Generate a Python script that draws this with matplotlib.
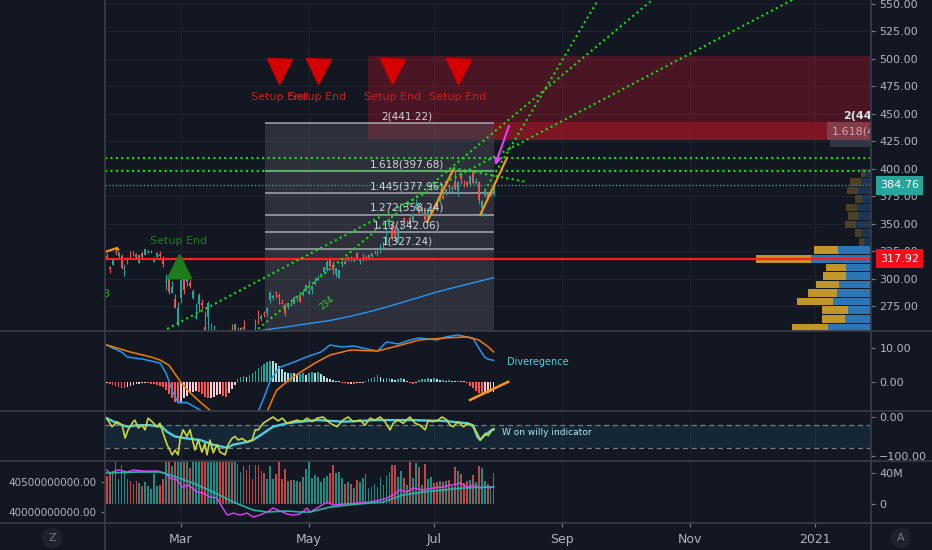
import numpy as np
import pandas as pd
import matplotlib
matplotlib.use("Agg")
import matplotlib.pyplot as plt
import matplotlib.transforms as mtrans
from matplotlib.patches import Rectangle
from matplotlib.lines import Line2D

plt.rcParams['font.family'] = ['DejaVu Sans']

# ------------------------------------------------------------------ data
holidays = ['2020-02-17', '2020-04-10', '2020-05-25', '2020-07-03', '2020-09-07',
            '2020-11-26', '2020-12-25', '2021-01-01', '2021-01-18', '2021-02-15']
month_starts = ['2020-03-01', '2020-05-01', '2020-07-01', '2020-09-01', '2020-11-01', '2021-01-01']
month_labels = ['Mar', 'May', 'Jul', 'Sep', 'Nov', '2021']

opens = [320.25, 310.06, 312.60, 324.45, 320.54, 320.93, 304.30, 315.31, 323.52, 322.57,
         322.37, 314.18, 323.60, 321.47, 324.19, 324.74, 315.36, 320.00, 322.63, 318.62,
         297.26, 300.95, 286.53, 281.10, 257.26, 282.28, 303.67, 296.44, 295.52, 282.00,
         263.75, 277.14, 277.39, 255.94, 264.89, 241.95, 247.51, 239.77, 247.39, 247.18,
         228.08, 236.36, 250.75, 246.52, 252.75, 250.74, 255.60, 246.50, 240.34, 242.80,
         250.90, 270.80, 262.74, 268.70, 268.31, 280.00, 282.40, 287.38, 284.69, 277.95,
         276.28, 273.61, 275.87, 277.20, 281.80, 285.08, 284.73, 289.96, 286.25, 289.17,
         295.06, 300.46, 303.22, 305.64, 308.10, 317.83, 312.15, 304.51, 300.35, 313.17,
         315.03, 316.68, 318.66, 315.77, 323.50, 316.14, 316.77, 319.25, 317.75, 320.75,
         324.66, 324.39, 323.35, 330.25, 332.14, 347.90, 349.31, 344.72, 333.25, 351.46,
         355.15, 351.41, 354.64, 351.34, 364.00, 365.00, 360.70, 364.41, 353.25, 360.08,
         365.12, 367.85, 370.00, 375.41, 376.72, 385.05, 381.34, 389.06, 379.36, 395.96,
         386.25, 387.95, 385.67, 396.69, 386.77, 387.99, 363.95, 374.84, 377.47, 375.00,
         376.75]
highs = [323.33, 311.77, 318.40, 327.85, 324.09, 322.68, 313.49, 319.64, 324.76, 325.22,
         323.40, 321.55, 323.90, 327.22, 326.22, 325.98, 319.75, 324.57, 324.65, 320.45,
         304.18, 302.53, 297.88, 286.00, 278.41, 301.44, 304.00, 303.40, 299.55, 290.82,
         278.09, 286.44, 281.22, 270.00, 279.92, 259.08, 257.61, 250.00, 252.84, 251.83,
         228.50, 247.69, 258.25, 258.68, 255.87, 255.52, 262.49, 248.72, 245.15, 245.70,
         263.11, 271.70, 267.37, 270.07, 273.70, 288.25, 286.33, 288.20, 286.95, 281.68,
         277.25, 277.90, 281.75, 283.01, 284.54, 285.83, 289.67, 294.53, 299.00, 293.69,
         301.00, 303.24, 305.17, 310.35, 317.05, 319.69, 315.95, 309.79, 307.90, 316.50,
         318.52, 319.52, 320.89, 319.23, 324.24, 318.71, 323.44, 321.15, 322.35, 323.44,
         326.20, 325.62, 331.75, 333.60, 345.61, 354.77, 351.06, 347.80, 345.68, 353.20,
         355.40, 353.45, 356.56, 359.46, 372.38, 368.79, 365.00, 365.32, 362.17, 365.98,
         367.36, 370.47, 375.78, 378.62, 381.50, 385.27, 383.92, 399.82, 389.02, 396.99,
         389.62, 388.59, 394.00, 397.00, 391.90, 388.36, 371.88, 379.62, 378.20, 380.92,
         385.19]
lows = [317.52, 304.88, 312.19, 321.38, 318.75, 308.29, 302.22, 313.63, 318.95, 320.26,
        318.00, 313.85, 318.71, 321.47, 323.35, 322.85, 314.61, 320.00, 318.21, 310.50,
        289.23, 286.13, 286.50, 272.96, 256.37, 277.72, 285.80, 293.13, 291.41, 281.23,
        263.00, 269.37, 271.86, 248.00, 252.95, 240.00, 238.40, 237.12, 242.61, 228.00,
        212.61, 234.30, 244.30, 246.36, 247.05, 249.40, 252.00, 239.13, 236.90, 238.97,
        249.38, 259.00, 261.23, 264.70, 265.83, 278.05, 280.63, 282.35, 276.86, 276.85,
        265.43, 272.20, 274.87, 277.00, 279.95, 278.20, 283.89, 288.35, 285.85, 286.32,
        294.46, 298.87, 301.97, 304.29, 307.24, 310.91, 303.21, 301.53, 300.21, 310.32,
        313.01, 316.20, 315.87, 315.35, 316.50, 313.09, 315.63, 316.47, 317.21, 318.93,
        322.30, 320.78, 323.23, 327.32, 332.58, 346.09, 335.48, 334.22, 332.58, 344.72,
        351.09, 349.22, 345.15, 351.15, 362.27, 358.52, 357.57, 353.02, 351.28, 360.00,
        363.91, 363.64, 369.87, 372.23, 376.36, 378.69, 378.82, 381.03, 375.51, 385.96,
        383.62, 383.36, 384.25, 386.35, 386.41, 368.04, 356.58, 373.92, 372.99, 374.85,
        375.07]
closes = [318.31, 308.95, 317.69, 324.34, 323.87, 309.51, 308.66, 318.85, 321.45, 325.21,
          320.03, 321.55, 319.61, 327.20, 324.87, 324.95, 319.00, 323.62, 320.30, 313.05,
          298.18, 288.08, 292.65, 273.52, 273.36, 298.81, 289.32, 302.74, 292.92, 289.03,
          266.17, 285.34, 275.43, 248.23, 277.97, 242.21, 252.86, 246.67, 244.78, 229.24,
          224.37, 246.88, 245.52, 258.44, 247.74, 254.81, 254.29, 240.91, 244.93, 241.41,
          262.47, 259.43, 266.07, 267.99, 273.25, 287.05, 284.43, 286.69, 282.80, 276.93,
          268.37, 276.10, 275.03, 282.97, 283.17, 278.58, 287.73, 293.80, 289.07, 293.16,
          297.56, 300.63, 303.74, 310.13, 315.01, 311.41, 307.65, 309.54, 307.71, 314.96,
          313.14, 319.23, 316.85, 318.89, 316.73, 318.11, 318.25, 317.94, 321.85, 323.34,
          325.12, 322.32, 331.50, 333.46, 343.99, 352.84, 335.90, 338.80, 342.99, 352.08,
          351.59, 351.73, 349.72, 358.87, 366.53, 360.06, 364.84, 353.63, 361.78, 364.80,
          364.11, 364.11, 373.85, 372.69, 381.37, 383.01, 383.68, 381.91, 388.23, 390.90,
          386.09, 385.31, 393.43, 387.00, 389.09, 371.38, 370.46, 379.24, 373.01, 380.16,
          384.76]
volumes_m = [36.6, 40.5, 40.6, 54.1, 31.7, 49.9, 43.5, 32.2, 29.7, 26.4,
             29.4, 27.3, 23.5, 28.4, 23.7, 20.0, 38.2, 23.5, 25.1, 32.4,
             55.5, 57.7, 49.5, 80.2, 106.7, 85.3, 79.9, 54.8, 46.9, 56.5,
             71.7, 71.3, 64.1, 104.6, 92.7, 80.6, 81.0, 75.1, 67.9, 100.4,
             84.2, 71.9, 75.9, 63.0, 52.0, 41.9, 49.3, 44.1, 49.7, 32.5,
             50.5, 50.7, 42.2, 40.5, 32.8, 48.7, 32.8, 39.3, 53.8, 32.5,
             45.2, 29.3, 31.2, 31.6, 29.3, 28.0, 34.3, 45.8, 60.2, 33.4,
             36.9, 35.3, 28.8, 33.5, 36.5, 40.6, 50.2, 39.7, 41.6, 33.8,
             25.4, 27.9, 25.7, 20.5, 31.4, 28.2, 33.4, 38.4, 20.2, 21.9,
             26.1, 21.9, 34.3, 23.9, 36.9, 41.7, 50.4, 50.0, 34.7, 42.0,
             33.9, 24.2, 66.1, 33.9, 53.0, 48.2, 24.5, 51.3, 32.7, 35.1,
             27.7, 28.5, 29.7, 28.1, 29.3, 31.4, 22.6, 48.2, 42.2, 38.3,
             27.4, 29.4, 31.6, 37.3, 28.0, 49.4, 46.2, 30.3, 25.9, 22.6,
             39.5]

# moving average (blue) read at every 5th bar
ma_idx = [50, 55, 60, 65, 70, 75, 80, 85, 90, 95, 100, 105, 110, 115, 120, 125, 130]
ma_val = [252.0, 253.9, 255.8, 257.8, 259.8, 261.8, 264.5, 267.6, 271.0, 274.8,
          278.8, 282.8, 287.0, 290.6, 294.0, 297.3, 300.8]

# MACD panel (bar index, value)
macd_pts = [(0, 10.9), (2, 10.0), (5, 8.8), (7, 7.3), (12, 6.7), (18, 5.5), (20, 2.4),
            (22, -2.7), (24, -6.3), (27, -6.3), (30, -7.8), (32, -8.8), (36, -12.5),
            (40, -15.5), (44, -13.5), (48, -10.5), (51, -8.8), (53, -4.5), (55, 0.3),
            (58, 4.2), (63, 5.8), (67, 7.3), (72, 8.8), (75, 10.9), (79, 10.3), (83, 10.6),
            (86, 10.0), (91, 9.1), (94, 11.8), (98, 11.2), (102, 12.4), (105, 13.0),
            (111, 12.4), (114, 13.3), (118, 13.9), (121, 13.3), (123, 13.0), (125, 10.0),
            (127, 7.3), (128, 6.7), (130, 6.3)]
signal_pts = [(0, 10.9), (8, 8.8), (15, 7.3), (18, 6.4), (21, 4.8), (25, -0.3), (28, -3.3),
              (31, -5.8), (35, -8.8), (40, -12.5), (45, -13.8), (50, -12.0), (54, -8.8),
              (57, -2.7), (61, 0.3), (65, 2.7), (70, 5.5), (75, 7.9), (82, 9.4), (91, 9.1),
              (99, 10.9), (105, 12.4), (114, 13.0), (121, 13.3), (125, 12.4), (128, 10.5),
              (130, 8.8)]
hist_vals = [-0.5, -0.8, -1.0, -1.2, -1.5, -1.8, -2.0, -1.5, -1.2, -1.0,
             -0.8, -0.6, -0.5, -0.4, -0.5, -0.6, -0.8, -1.0, -1.2, -1.5,
             -2.5, -3.8, -5.0, -6.0, -6.3, -6.0, -5.0, -4.2, -3.5, -3.0,
             -2.8, -3.2, -3.8, -4.5, -4.8, -4.8, -4.5, -4.0, -3.8, -4.2,
             -4.5, -3.5, -2.2, -1.0, 0.8, 1.2, 1.5, 1.2, 1.8, 2.5,
             3.2, 4.0, 4.5, 5.2, 5.8, 6.2, 6.0, 5.5, 4.5, 3.8,
             2.8, 2.4, 2.6, 2.4, 2.0, 2.2, 2.4, 2.0, 2.4, 2.7,
             2.5, 2.7, 2.2, 1.5, 0.9, 0.6, 0.4, 0.2, 0.1, -0.3,
             -0.5, -0.7, -0.6, -0.8, -0.5, -0.4, -0.3, 0.3, 0.6, 1.0,
             1.4, 1.8, 1.3, 0.8, 0.9, 1.1, 0.7, 0.5, 0.8, 1.0,
             0.6, 0.3, -0.4, -0.6, -0.3, 0.4, 0.6, 0.8, 1.0, 0.7,
             0.9, 0.6, 0.4, 0.5, 0.3, 0.4, 0.3, 0.2, 0.3, 0.2,
             0.1, -0.4, -1.2, -2.0, -2.8, -3.3, -3.5, -3.4, -3.3, -3.1,
             -3.0]

# Williams %R (yellow) and its smoothing (cyan)
wr_pts = [(0, -3), (1.8, -25), (3.5, -12), (5.2, -21), (6.2, -54), (7.2, -33), (8.9, -12),
          (9.5, -8), (10.6, -28), (11.9, -21), (12.9, -33), (13.9, -3), (15.3, -12),
          (16.9, -25), (17.9, -16), (19, -42), (20.3, -71), (22, -97), (23, -85), (24, -97),
          (24.7, -55), (25.7, -33), (27, -50), (28, -33), (29.7, -85), (30.8, -59), (32, -90),
          (33, -68), (33.7, -97), (34.7, -59), (35.8, -92), (37.1, -71), (38.1, -90),
          (39.8, -97), (40.8, -71), (42.1, -55), (43.1, -50), (44.2, -59), (45.5, -55),
          (47.2, -64), (48.9, -59), (49.9, -33), (50.9, -33), (52.6, -16), (54.2, -8),
          (55.9, 0), (57.6, -10), (59, -3), (60.6, -16), (62.3, -12), (64, -8), (65.7, -12),
          (67.4, -3), (69, -12), (70.7, -3), (72.7, 0), (75.1, -16), (77.4, -25), (79.4, -8),
          (81.1, 0), (82.8, -12), (85.2, -8), (86.8, -21), (88.5, -3), (90.2, -8), (91.9, 0),
          (93.5, -12), (95.2, -33), (96.3, -16), (97.9, -8), (99.6, -16), (101.9, 0),
          (103.6, -16), (105.3, -21), (107, -33), (108, -10), (109.7, -12), (111.3, -8),
          (112.7, 0), (114.4, -8), (115.4, -21), (116.4, -25), (118.1, -12), (119.8, -25),
          (121.4, -16), (123.1, -25), (124.5, -42), (125.5, -59), (126.5, -50), (127.2, -42),
          (128.2, -48), (129.5, -33), (130, -30)]
wr_smooth_pts = [(0, -3), (3.5, -16), (6.9, -25), (10.2, -21), (14.6, -21), (18.6, -25),
                 (20.3, -38), (23, -50), (27, -55), (31.4, -59), (35.8, -71), (40.5, -79),
                 (42.5, -71), (47.2, -64), (49.2, -59), (52.6, -42), (55.9, -25), (60.6, -16),
                 (65, -12), (71, -8), (79.4, -12), (90.9, -8), (101.9, -8), (113.1, -10),
                 (121.1, -16), (123.1, -21), (124.5, -50), (125.5, -59), (126.5, -50),
                 (127.8, -42), (129.5, -33), (130, -32)]

# cumulative volume line (magenta) and its average (teal), billions
obv_pts = [(0, 40.70), (1.1, 40.65), (3.8, 40.70), (6.9, 40.667), (8.9, 40.70), (12.2, 40.683),
           (16.9, 40.683), (19.6, 40.65), (21.3, 40.567), (23.7, 40.533), (25.3, 40.417),
           (27.4, 40.45), (30.4, 40.333), (32.4, 40.317), (34.7, 40.25), (37.1, 40.233),
           (38.8, 40.083), (40.5, 39.95), (42.5, 39.983), (44.8, 39.95), (47.2, 39.983),
           (49.2, 39.917), (51.5, 39.95), (53.9, 40.0), (55.9, 40.067), (58.3, 40.017),
           (60.6, 39.967), (62.6, 39.95), (65.0, 39.967), (67.3, 40.067), (68.3, 40.0),
           (70.7, 40.067), (74.0, 40.167), (76.1, 40.117), (79.5, 40.133), (84.2, 40.15),
           (88.5, 40.167), (91.9, 40.2), (94.2, 40.233), (96.2, 40.283), (98.6, 40.367),
           (100.9, 40.333), (103.0, 40.4), (106.3, 40.367), (109.7, 40.4), (113.1, 40.417),
           (115.4, 40.45), (117.7, 40.467), (118.7, 40.483), (121.1, 40.417), (123.1, 40.45),
           (125.5, 40.4), (127.2, 40.417), (128.8, 40.40), (130, 40.43)]
obv_ma_pts = [(0, 40.65), (11.2, 40.667), (17.9, 40.667), (22.3, 40.60), (29.0, 40.483),
              (35.8, 40.333), (42.5, 40.167), (49.2, 40.033), (53.9, 40.0), (60.6, 40.017),
              (65, 40.0), (68.3, 40.0), (75.1, 40.083), (84.2, 40.133), (92.9, 40.167),
              (99.6, 40.283), (106.3, 40.333), (113.1, 40.367), (119.8, 40.40),
              (128.8, 40.417), (130, 40.417)]

# volume profile rows (price bottom, up volume, down volume, in value area)
vp_lo = [251.6, 259.4, 267.2, 275.0, 282.8, 290.6, 298.4, 306.2, 314.0, 321.8,
         329.6, 337.4, 345.2, 353.0, 360.8, 368.6, 376.4, 384.2, 392.0]
vp_up = [43, 26, 23, 38, 34, 32, 25, 25, 60, 33, 7, 10, 15, 13, 14, 9, 13, 10, 6]
vp_dn = [36, 23, 26, 36, 29, 23, 23, 20, 55, 24, 5, 6, 11, 10, 11, 7, 11, 11, 4]
vp_in_va = [True] * 10 + [False] * 9

# fibonacci extension
fib_ratios = ['2', '1.618', '1.445', '1.272', '1.13', '1']
fib_prices = [441.22, 397.68, 377.96, 358.24, 342.06, 327.24]
fib_span = (53.2, 130.2)
# labels of the second fib tool, cut by the price scale as in the chart
right_fib_labels = ['2(441', '1.618(4']

# drawings (bar index, price)
zone_start, zone_lo, zone_hi = 87.8, 426.5, 502.6
band_start, band_hi = 130.2, 442.5
setup_sell_idx = [58, 71, 96, 118]
setup_buy = (24.3, 311.0)
green_levels = [409.8, 397.7]
last_price = 384.76
poc_price = 317.92
trend_lines = [((20.3, 254.1), (230.3, 553.6)),
               ((50.9, 254.1), (183.3, 553.6)),
               ((127.0, 380.0), (165.1, 553.6)),
               ((116.4, 400.7), (141.2, 387.9))]
orange_lines = [[(-0.5, 324.2), (3.5, 327.8), (3.9, 326.3)],
                [(107.7, 351.5), (116.4, 398.8)],
                [(125.5, 357.9), (134.5, 409.8)]]
arrow_from, arrow_to = (135.5, 441.6), (130.2, 400.7)
price_ticks = list(range(275, 551, 25))

# ------------------------------------------------------------------ style
BG = '#131722'
GRID = '#1d212c'
TXT = '#b2b5be'
TICK = '#787b86'
SEP = '#363a45'
UP = '#26a69a'
DN = '#ef5350'
GREEN = '#13e013'
DOTS = (0, (1, 1.6))

W, H = 932, 550
L, R = 105, 871
fig = plt.figure(figsize=(W / 100, H / 100), dpi=100, facecolor=BG)


def add_ax(top, bot):
    return fig.add_axes([L / W, 1 - bot / H, (R - L) / W, (bot - top) / H])


ax = add_ax(0, 331)
axm = add_ax(331, 411)
axw = add_ax(411, 461)
axv = add_ax(461, 523)

cal = pd.bdate_range('2020-01-24', '2021-03-31', freq='C', holidays=holidays)
month_idx = [int(cal.searchsorted(pd.Timestamp(m))) for m in month_starts]
XL = (-0.55, 256.8)

for a in (ax, axm, axw, axv):
    a.set_facecolor(BG)
    for s in a.spines.values():
        s.set_visible(False)
    a.set_xlim(XL)
    a.set_xticks(month_idx)
    a.tick_params(axis='x', length=0, labelbottom=False)
    a.yaxis.tick_right()
    a.tick_params(axis='y', colors=TICK, labelcolor=TXT, labelsize=8, length=3, width=0.8, pad=3)
    a.grid(True, axis='x', color=GRID, lw=0.9)
    a.set_axisbelow(True)

idx = np.arange(len(closes))
o, h, l, c = (np.array(v, dtype=float) for v in (opens, highs, lows, closes))
up = c >= o
cols = np.where(up, UP, DN)

# ---------------- main panel
ax.set_ylim(252.2, 553.6)
ax.set_yticks(price_ticks)
ax.set_yticklabels([f'{p:.2f}' for p in price_ticks])
ax.grid(True, axis='y', color=GRID, lw=0.9)

ax.add_patch(Rectangle((zone_start, zone_lo), 400, zone_hi - zone_lo, fc='#f01428', alpha=0.25,
                       ec='none', zorder=1))
ax.add_patch(Rectangle((band_start, zone_lo), 400, band_hi - zone_lo, fc='#f01428', alpha=0.3,
                       ec='none', zorder=1))
ax.add_patch(Rectangle((fib_span[0], 200), fib_span[1] - fib_span[0], fib_prices[0] - 200,
                       fc='#787b86', alpha=0.26, ec='none', zorder=1.5))
# right-hand fib remnants
ax.add_patch(Rectangle((242.1, zone_lo), 30, band_hi - zone_lo, fc='#9598a1', alpha=0.3,
                       ec='none', zorder=1.6))
ax.add_patch(Rectangle((243.0, 419.5), 30, zone_lo - 419.5, fc='#787b86', alpha=0.3,
                       ec='none', zorder=1.6))

# volume profile
tr_vp = mtrans.blended_transform_factory(ax.transAxes, ax.transData)
vp_scale = 1 / 766
for lo, u, d, va in zip(vp_lo, vp_up, vp_dn, vp_in_va):
    al = 0.92 if va else 0.3
    ax.add_patch(Rectangle((1 - u * vp_scale, lo + 0.45), u * vp_scale, 6.9, transform=tr_vp,
                           fc='#2f7fc4', alpha=al, ec='none', zorder=2))
    ax.add_patch(Rectangle((1 - (u + d) * vp_scale, lo + 0.45), d * vp_scale, 6.9,
                           transform=tr_vp, fc='#d0a22b', alpha=al, ec='none', zorder=2))

ax.hlines(fib_prices, fib_span[0], fib_span[1], colors='#b2b5be', lw=1.1, alpha=0.9, zorder=3)
fib_mid = (fib_span[0] + fib_span[1]) / 2 + 9.2
for r, p in zip(fib_ratios, fib_prices):
    ax.text(fib_mid, p + 1.6, f'{r}({p:.2f})', ha='center', va='bottom', fontsize=7.5,
            color='#d1d4dc', zorder=8)
ax.text(247.4, 448.0, right_fib_labels[0], ha='left', va='center', fontsize=8,
        fontweight='bold', color='#e0e3eb', zorder=8, clip_on=True)
ax.text(243.8, 434.3, right_fib_labels[1], ha='left', va='center', fontsize=8,
        color='#d9a3aa', zorder=8, clip_on=True)

ax.plot(ma_idx, ma_val, color='#2196f3', lw=1.0, zorder=3)

ax.vlines(idx, l, h, colors=cols, lw=0.8, zorder=4)
ax.bar(idx, np.maximum(np.abs(c - o), 0.4), bottom=np.minimum(o, c), width=0.62, color=cols,
       lw=0, zorder=4)

ax.axhline(poc_price, color='#ff1f1f', lw=1.6, zorder=5)
for p in green_levels:
    ax.axhline(p, color=GREEN, lw=1.5, ls=DOTS, zorder=5)
ax.axhline(last_price, color='#26a69a', lw=1.0, ls=(0, (1, 1.5)), zorder=5)
for (x0, y0), (x1, y1) in trend_lines:
    ax.plot([x0, x1], [y0, y1], color=GREEN, lw=1.5, ls=DOTS, zorder=5)
for seg in orange_lines:
    xs, ys = zip(*seg)
    ax.plot(xs, ys, color='#ff9800', lw=1.5, zorder=6)
ax.annotate('', xy=arrow_to, xytext=arrow_from,
            arrowprops=dict(arrowstyle='-|>', color='#e040fb', lw=1.5, mutation_scale=9),
            zorder=6)

tr_top = mtrans.blended_transform_factory(ax.transData, ax.transAxes)
ax.plot(setup_sell_idx, [0.784] * len(setup_sell_idx), 'v', ms=18, color='#d50000',
        transform=tr_top, zorder=7)
for i in setup_sell_idx:
    ax.text(i, 0.707, 'Setup End', transform=tr_top, ha='center', va='center', fontsize=8,
            color='#c0221f', zorder=7)
ax.plot([setup_buy[0]], [setup_buy[1]], '^', ms=17, color='#1b7e1b', zorder=7)
ax.text(setup_buy[0], setup_buy[1] + 23, 'Setup End', ha='center', va='center', fontsize=8,
        color='#1e7b1e', zorder=7)
ax.text(-0.3, 286, '3', ha='center', va='center', fontsize=8, color='#22b822', zorder=7)
ax.text(74, 277.7, '234', ha='center', va='center', fontsize=6, rotation=40,
        color='#2ecc2e', zorder=7)

tr_tag = mtrans.blended_transform_factory(ax.transAxes, ax.transData)
ax.text(1 + 9 / 766, last_price, f'{last_price:.2f}', transform=tr_tag, ha='left', va='center',
        fontsize=8, color='white', zorder=20, clip_on=False,
        bbox=dict(boxstyle='square,pad=0.4', fc='#26a69a', ec='none'))
ax.text(1 + 9 / 766, poc_price, f'{poc_price:.2f}', transform=tr_tag, ha='left', va='center',
        fontsize=8, color='white', zorder=20, clip_on=False,
        bbox=dict(boxstyle='square,pad=0.4', fc='#f70d1a', ec='none'))

# ---------------- MACD
axm.set_ylim(-8.8, 15.07)
axm.set_yticks([0, 10])
axm.set_yticklabels(['0.00', '10.00'])
hcols = []
for i, v in enumerate(hist_vals):
    prev = hist_vals[i - 1] if i > 0 else v
    if v >= 0:
        hcols.append('#26a69a' if v >= prev else '#b2dfdb')
    else:
        hcols.append('#ff5252' if v < prev else '#ffcdd2')
axm.bar(idx, hist_vals, width=0.6, color=hcols, lw=0, zorder=3)
mx, mv = zip(*macd_pts)
sx, sv = zip(*signal_pts)
axm.plot(mx, mv, color='#2196f3', lw=1.1, zorder=4)
axm.plot(sx, sv, color='#f57c00', lw=1.1, zorder=4)
axm.plot([122.1, 134.9], [-5.5, -0.1], color='#ff9800', lw=1.8, zorder=5)
axm.text(134.5, 5.8, 'Diveregence', color='#4dd0e1', fontsize=7, va='center', zorder=6)

# ---------------- Williams %R
axw.set_ylim(-112.8, 15.4)
axw.set_yticks([0, -100])
axw.set_yticklabels(['0.00', '\u2212100.00'])
axw.axhspan(-80, -20, color='#26a2c8', alpha=0.11, lw=0, zorder=1)
for lev in (-20, -80):
    axw.axhline(lev, color=TICK, lw=0.9, ls=(0, (4, 3)), zorder=2)
wx, wv = zip(*wr_pts)
cx, cv = zip(*wr_smooth_pts)
axw.plot(cx, cv, color='#4dd0e1', lw=1.7, zorder=3)
axw.plot(wx, wv, color='#c8d63a', lw=1.2, zorder=4)
axw.text(132.9, -38.5, 'W on willy indicator', color='#b2ebf2', fontsize=6.5, va='center',
         zorder=6)

# ---------------- Volume
axv.set_ylim(-24.5, 55.5)
axv.bar(idx, volumes_m, width=0.6, color=cols, alpha=0.8, lw=0, zorder=3)
axv.set_xticklabels(month_labels)
axv.tick_params(axis='x', labelbottom=True, length=3, width=0.8, colors=TICK, labelcolor=TXT,
                labelsize=9, pad=4)

axo = axv.twinx()
for s in axo.spines.values():
    s.set_visible(False)
axo.set_ylim(39.817, 40.85)
axo.yaxis.tick_left()
axo.set_yticks([40.0, 40.5])
axo.set_yticklabels(['40000000000.00', '40500000000.00'])
axo.tick_params(axis='y', colors=TICK, labelcolor=TXT, labelsize=7.5, length=3, width=0.8, pad=3)
ox, ov = zip(*obv_pts)
qx, qv = zip(*obv_ma_pts)
axo.plot(ox, ov, color='#e040fb', lw=1.0, zorder=4)
axo.plot(qx, qv, color='#26b3a5', lw=1.2, zorder=5)
axo.set_xlim(XL)

# volume scale on the right (set after twinx, which moves ticks)
axv.yaxis.tick_right()
axv.set_yticks([0, 40])
axv.set_yticklabels(['0', '40M'])
axv.tick_params(axis='y', colors=TICK, labelcolor=TXT, labelsize=8, length=3, width=0.8, pad=3)

# ---------------- separators & corner buttons
for yy in (331, 411, 461, 523):
    fig.add_artist(Line2D([0, 1], [1 - yy / H] * 2, transform=fig.transFigure, color=SEP, lw=1.3))
for xx in (L, R):
    fig.add_artist(Line2D([xx / W] * 2, [0, 1], transform=fig.transFigure, color=SEP, lw=1.3))
for xx, t in ((52, 'Z'), (901, 'A')):
    fig.text(xx / W, 1 - 538 / H, t, ha='center', va='center', fontsize=8, color=TICK,
             bbox=dict(boxstyle='circle,pad=0.45', fc='#1e222d', ec='none'))

fig.savefig('out.png', dpi=100, facecolor=BG)
